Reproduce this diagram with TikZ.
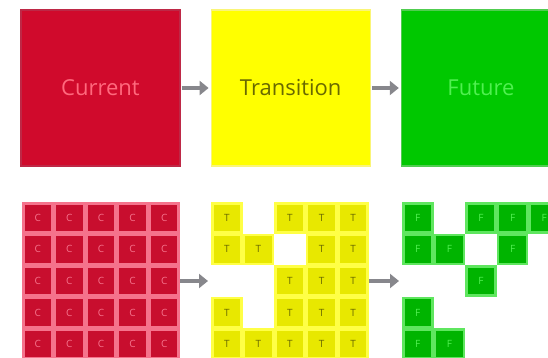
\documentclass[tikz,border=0pt]{standalone}
\usepackage{fontspec}
\setmainfont{Open Sans}
\usetikzlibrary{positioning,arrows.meta}
\definecolor{currentred}{RGB}{208,10,44}
\definecolor{currentedge}{RGB}{190,40,70}
\definecolor{currenttext}{RGB}{255,105,125}
\definecolor{transyellow}{RGB}{255,255,0}
\definecolor{transedge}{RGB}{250,245,120}
\definecolor{transtext}{RGB}{105,105,0}
\definecolor{futuregreen}{RGB}{0,200,0}
\definecolor{futureedge}{RGB}{80,205,80}
\definecolor{futuretext}{RGB}{80,240,80}
\definecolor{cellred}{RGB}{200,14,46}
\definecolor{cellredlight}{RGB}{245,115,140}
\definecolor{cellyellow}{RGB}{232,232,0}
\definecolor{cellyellowlight}{RGB}{255,255,70}
\definecolor{cellgreen}{RGB}{0,180,0}
\definecolor{cellgreenlight}{RGB}{95,230,95}
\definecolor{arrowgray}{RGB}{135,135,140}

\begin{document}
\begin{tikzpicture}[
    x=1pt, y=-1pt,
    node distance=30pt,
    box/.style={rectangle, minimum width=159pt, minimum height=156pt, inner sep=0pt, line width=1.2pt, font=\fontsize{22}{26}\selectfont},
    cell/.style={rectangle, minimum size=29pt, inner sep=0pt, line width=2.6pt, font=\fontsize{10}{12}\selectfont},
    redcell/.style={cell, fill=cellred, draw=cellredlight, text=cellredlight},
    yellowcell/.style={cell, fill=cellyellow, draw=cellyellowlight, text=transtext},
    greencell/.style={cell, fill=cellgreen, draw=cellgreenlight, text=futuretext},
    arrow/.style={-{Triangle[length=9pt,width=14pt]}, line width=4pt, arrowgray}
]
\useasboundingbox (0,0) rectangle (548,358);

% top row
\node[box, fill=currentred, draw=currentedge, text=currenttext] (current) at (100.5,88) {Current};
\node[box, fill=transyellow, draw=transedge, text=transtext, right=of current] (transition) {Transition};
\node[box, fill=futuregreen, draw=futureedge, text=futuretext, right=of transition] (future) {Future};

\draw[arrow, shorten <=1pt, shorten >=2pt] (current) -- (transition);
\draw[arrow, shorten <=1pt, shorten >=2pt] (transition) -- (future);

% bottom row
\foreach \r in {0,...,4}
  \foreach \c in {0,...,4}
    \node[redcell] (c-\r-\c) at ({37.8+31.6*\c},{217.8+31.6*\r}) {C};

\foreach \r/\c in {0/0,0/2,0/3,0/4, 1/0,1/1,1/3,1/4, 2/2,2/3,2/4, 3/0,3/2,3/3,3/4, 4/0,4/1,4/2,4/3,4/4}
  \node[yellowcell] (t-\r-\c) at ({226.8+31.6*\c},{217.8+31.6*\r}) {T};

\foreach \r/\c in {0/0,0/2,0/3,0/4, 1/0,1/1,1/3, 2/2, 3/0, 4/0,4/1}
  \node[greencell] (f-\r-\c) at ({417.8+31.6*\c},{217.8+31.6*\r}) {F};

\coordinate (t-in) at (208,281);
\coordinate (f-in) at (399,281);
\draw[arrow] (c-2-4) -- (t-in);
\draw[arrow] (t-2-4) -- (f-in);

\end{tikzpicture}
\end{document}
